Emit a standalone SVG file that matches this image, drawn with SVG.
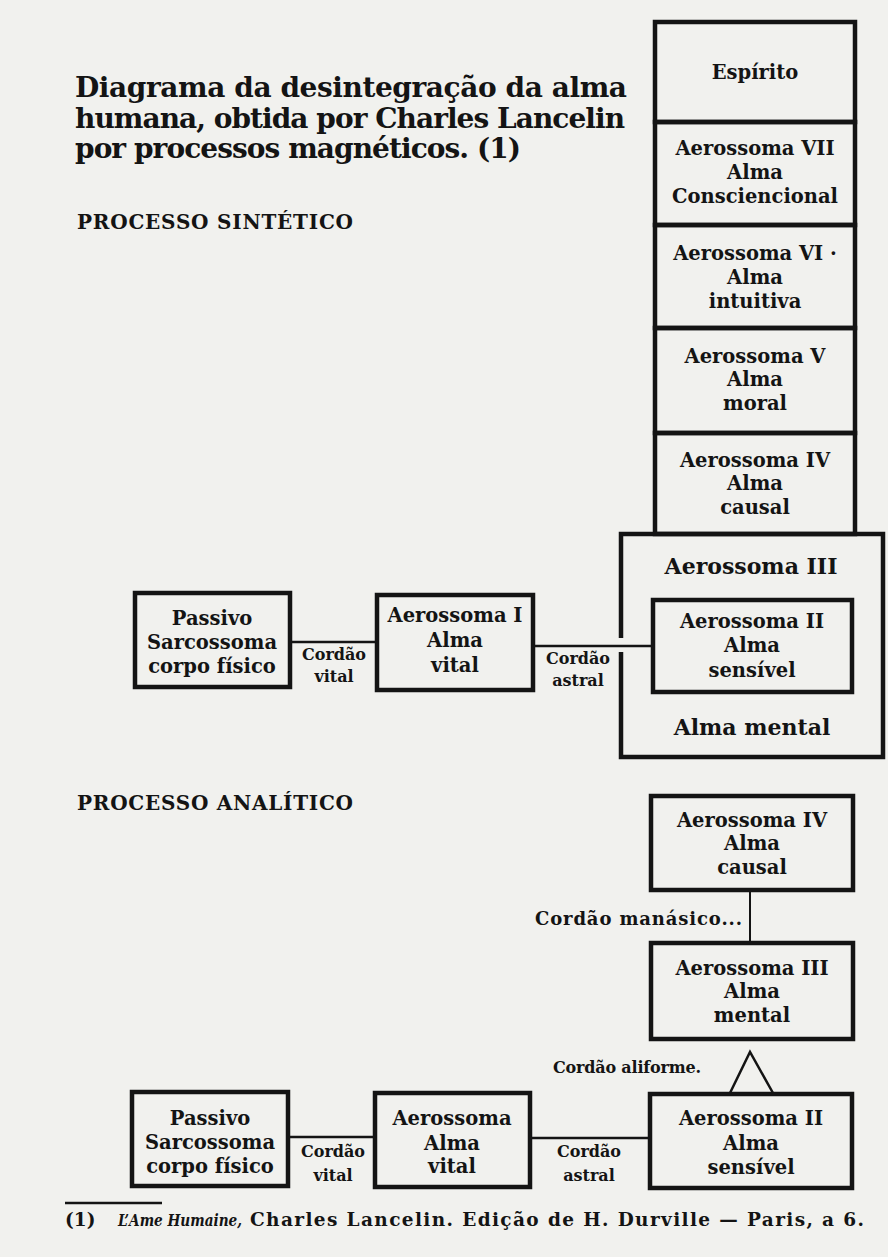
<svg xmlns="http://www.w3.org/2000/svg" width="888" height="1257" viewBox="0 0 888 1257">
<style>
.bg{fill:#f1f1ee}
.box{fill:none;stroke:#141414;stroke-width:4.5}
.con{stroke:#141414;stroke-width:2.5;fill:none}
.thin{stroke:#141414;stroke-width:2;fill:none}
text{font-family:"DejaVu Serif","Liberation Serif",serif;font-weight:bold;fill:#141414}
.t{font-size:19.5px;text-anchor:middle}
.tb{font-size:22px;text-anchor:middle}
.title{font-size:28px}
.head{font-size:20px}
.lab{font-size:16px;text-anchor:middle}
.lab2{font-size:18px}
.lab3{font-size:16px}
.foot{font-size:18.5px}
.fi{font-size:16px;font-style:italic}
</style>
<rect class="bg" x="0" y="0" width="888" height="1257"/>

<g id="title">
<text class="title" x="75" y="97" textLength="552">Diagrama da desintegração da alma</text>
<text class="title" x="75" y="128" textLength="550">humana, obtida por Charles Lancelin</text>
<text class="title" x="75" y="158" textLength="446">por processos magnéticos. (1)</text>
</g>
<text id="head-sintetico" class="head" x="77" y="229" textLength="276">PROCESSO SINTÉTICO</text>

<!-- Processo sintético: column -->
<g id="espirito">
<rect class="box" x="655" y="22" width="200" height="100"/>
<text class="t" x="755" y="79">Espírito</text>
</g>
<g id="aerossoma-vii">
<rect class="box" x="655" y="122" width="200" height="103"/>
<text class="t" x="755" y="155">Aerossoma VII</text>
<text class="t" x="755" y="179">Alma</text>
<text class="t" x="755" y="203">Consciencional</text>
</g>
<g id="aerossoma-vi">
<rect class="box" x="655" y="225" width="200" height="103"/>
<text class="t" x="755" y="260">Aerossoma VI ·</text>
<text class="t" x="755" y="284">Alma</text>
<text class="t" x="755" y="308">intuitiva</text>
</g>
<g id="aerossoma-v">
<rect class="box" x="655" y="328" width="200" height="105"/>
<text class="t" x="755" y="363">Aerossoma V</text>
<text class="t" x="755" y="386">Alma</text>
<text class="t" x="755" y="410">moral</text>
</g>
<g id="aerossoma-iv">
<rect class="box" x="655" y="433" width="200" height="101"/>
<text class="t" x="755" y="467">Aerossoma IV</text>
<text class="t" x="755" y="490">Alma</text>
<text class="t" x="755" y="514">causal</text>
</g>
<g id="aerossoma-iii">
<path class="box" d="M621,638 V534 H883 V757 H621 V652"/>
<text class="tb" x="751" y="574">Aerossoma III</text>
<text class="tb" x="752" y="735">Alma mental</text>
</g>
<g id="aerossoma-ii">
<rect class="box" x="653" y="600" width="199" height="92"/>
<text class="t" x="752" y="628">Aerossoma II</text>
<text class="t" x="752" y="652">Alma</text>
<text class="t" x="752" y="677">sensível</text>
</g>
<g id="passivo-1">
<rect class="box" x="135" y="593" width="155" height="94"/>
<text class="t" x="212" y="625">Passivo</text>
<text class="t" x="212" y="649">Sarcossoma</text>
<text class="t" x="212" y="673">corpo  físico</text>
</g>
<g id="aerossoma-i">
<rect class="box" x="377" y="595" width="156" height="95"/>
<text class="t" x="455" y="622">Aerossoma I</text>
<text class="t" x="455" y="647">Alma</text>
<text class="t" x="455" y="672">vital</text>
</g>

<text id="head-analitico" class="head" x="77" y="810" textLength="276">PROCESSO ANALÍTICO</text>

<!-- Processo analítico -->
<g id="an-aerossoma-iv">
<rect class="box" x="651" y="796" width="202" height="94"/>
<text class="t" x="752" y="827">Aerossoma IV</text>
<text class="t" x="752" y="850">Alma</text>
<text class="t" x="752" y="874">causal</text>
</g>
<g id="an-aerossoma-iii">
<rect class="box" x="651" y="943" width="202" height="96"/>
<text class="t" x="752" y="975">Aerossoma III</text>
<text class="t" x="752" y="998">Alma</text>
<text class="t" x="752" y="1022">mental</text>
</g>
<g id="an-aerossoma-ii">
<rect class="box" x="650" y="1094" width="202" height="94"/>
<text class="t" x="751" y="1125">Aerossoma II</text>
<text class="t" x="751" y="1150">Alma</text>
<text class="t" x="751" y="1174">sensível</text>
</g>
<g id="an-aerossoma">
<rect class="box" x="375" y="1093" width="155" height="94"/>
<text class="t" x="452" y="1125">Aerossoma</text>
<text class="t" x="452" y="1150">Alma</text>
<text class="t" x="452" y="1173">vital</text>
</g>
<g id="an-passivo">
<rect class="box" x="132" y="1092" width="156" height="94"/>
<text class="t" x="210" y="1125">Passivo</text>
<text class="t" x="210" y="1149">Sarcossoma</text>
<text class="t" x="210" y="1173">corpo  físico</text>
</g>

<g id="connectors">
<line class="con" x1="290" y1="642" x2="377" y2="642"/>
<line class="con" x1="533" y1="646" x2="653" y2="646"/>
<line class="thin" x1="750" y1="890" x2="750" y2="943"/>
<path class="con" d="M730,1093 L750,1052 L773,1093"/>
<line class="con" x1="288" y1="1137" x2="375" y2="1137"/>
<line class="con" x1="530" y1="1138" x2="650" y2="1138"/>
</g>
<g id="connector-labels">
<text class="lab" x="334" y="660">Cordão</text>
<text class="lab" x="334" y="682">vital</text>
<text class="lab" x="578" y="664">Cordão</text>
<text class="lab" x="578" y="686">astral</text>
<text class="lab2" x="535" y="925" textLength="207">Cordão manásico...</text>
<text class="lab3" x="553" y="1073" textLength="148">Cordão aliforme.</text>
<text class="lab" x="333" y="1157">Cordão</text>
<text class="lab" x="333" y="1181">vital</text>
<text class="lab" x="589" y="1157">Cordão</text>
<text class="lab" x="589" y="1181">astral</text>
</g>

<g id="footnote">
<line class="con" x1="65" y1="1203" x2="162" y2="1203"/>
<text class="foot" x="65" y="1226">(1)</text>
<text class="fi" x="118" y="1226" textLength="124" lengthAdjust="spacingAndGlyphs">L’Ame Humaine,</text>
<text class="foot" x="250" y="1226" textLength="614">Charles Lancelin. Edição de H. Durville — Paris, a 6.</text>
</g>
</svg>
